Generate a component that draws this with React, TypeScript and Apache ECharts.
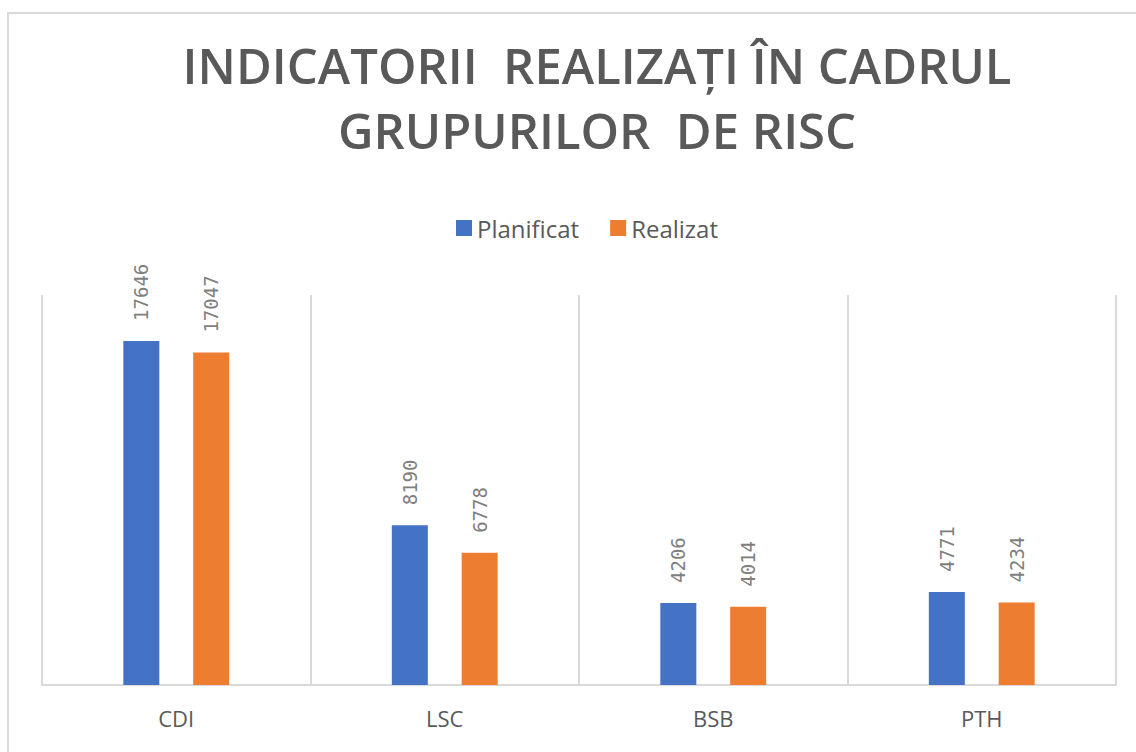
import React, { useEffect, useRef } from "react";
import * as echarts from "echarts";

const categories = ["CDI", "LSC", "BSB", "PTH"];
const planificat = [17646, 8190, 4206, 4771];
const realizat = [17047, 6778, 4014, 4234];
const titleLines = ["INDICATORII  REALIZAȚI ÎN CADRUL", "GRUPURILOR  DE RISC"];

export default function App() {
  const ref = useRef<HTMLDivElement>(null);
  useEffect(() => {
    if (!ref.current) return;
    const chart = echarts.init(ref.current, undefined, { renderer: "svg" });
    const valueLabel = {
      show: true,
      position: "top",
      rotate: 90,
      align: "left",
      verticalAlign: "middle",
      distance: 20,
      color: "#7f7f7f",
      fontSize: 19,
      fontFamily: "DejaVu Sans Mono",
    };
    chart.setOption({
      animation: false,
      backgroundColor: "#ffffff",
      title: {
        text: titleLines.join("\n"),
        left: 592,
        textAlign: "center",
        top: 27,
        textStyle: {
          color: "#595959",
          fontSize: 49,
          fontWeight: 600,
          fontFamily: "Open Sans",
          lineHeight: 65,
        },
      },
      legend: {
        data: ["Planificat", "Realizat"],
        top: 211,
        left: 451,
        itemWidth: 16,
        itemHeight: 16,
        itemGap: 31,
        icon: "rect",
        textStyle: { color: "#595959", fontSize: 24, fontFamily: "Open Sans" },
      },
      graphic: [
        {
          type: "rect",
          shape: { x: 8, y: 13, width: 1140, height: 760 },
          style: { fill: "none", stroke: "#d9d9d9", lineWidth: 2 },
          silent: true,
        },
      ],
      grid: { left: 42, right: 20, top: 295, bottom: 67 },
      xAxis: {
        type: "category",
        data: categories,
        boundaryGap: true,
        axisLine: { show: true, lineStyle: { color: "#d9d9d9", width: 2 } },
        axisTick: { show: false },
        splitLine: { show: true, lineStyle: { color: "#d9d9d9", width: 2 } },
        axisLabel: {
          color: "#595959",
          fontSize: 22,
          margin: 22,
          fontFamily: "Open Sans",
        },
      },
      yAxis: {
        type: "value",
        min: 0,
        max: 20000,
        show: false,
        splitLine: { show: false },
      },
      series: [
        {
          name: "Planificat",
          type: "bar",
          data: planificat,
          barWidth: 36,
          barGap: "94%",
          itemStyle: { color: "#4472c4" },
          label: valueLabel,
        },
        {
          name: "Realizat",
          type: "bar",
          data: realizat,
          barWidth: 36,
          itemStyle: { color: "#ed7d31" },
          label: valueLabel,
        },
      ],
    });
    return () => chart.dispose();
  }, []);
  return (
    <div
      ref={ref}
      style={{ position: "fixed", left: 0, top: 0, width: 1136, height: 752 }}
    />
  );
}
